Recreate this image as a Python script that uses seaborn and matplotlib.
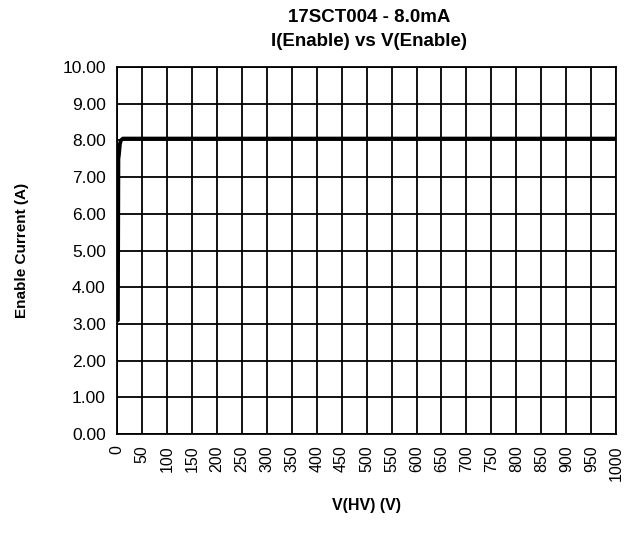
import matplotlib
matplotlib.use("Agg")
import matplotlib.pyplot as plt
import seaborn as sns
import pandas as pd
import numpy as np

# data
voltage = [2, 3, 4, 6, 8, 12, 20, 1000]
current = [3.1, 7.5, 7.6, 7.9, 8.0, 8.05, 8.05, 8.05]
x_ticks = list(range(0, 1001, 50))
y_ticks = [0, 1, 2, 3, 4, 5, 6, 7, 8, 9, 10]

sns.set_style("white", {"text.color": "black", "axes.labelcolor": "black",
                        "xtick.color": "black", "ytick.color": "black"})
plt.rcParams['font.family'] = ['Liberation Sans', 'DejaVu Sans']

df = pd.DataFrame({"V": voltage, "I": current})

fig = plt.figure(figsize=(6.25, 5.36), dpi=100)
ax = fig.add_axes([0.187, 0.190, 0.799, 0.685])

sns.lineplot(data=df, x="V", y="I", ax=ax, color="black", linewidth=2.8,
             estimator=None, sort=False)

ax.set_xlim(0, 1000)
ax.set_ylim(0, 10)
ax.set_xticks(x_ticks)
ax.set_xticklabels([str(t) for t in x_ticks], rotation=90, fontsize=11.5)
ax.set_yticks(y_ticks)
ax.set_yticklabels([f"{t:.2f}" for t in y_ticks], fontsize=12.5)
ax.grid(True, color="black", linewidth=1.3)
ax.set_axisbelow(True)
for s in ax.spines.values():
    s.set_color("black")
    s.set_linewidth(1.3)
ax.tick_params(axis="both", direction="out", length=5, width=1.2, color="black",
               labelcolor="black", pad=3)

ax.set_xlabel("V(HV) (V)", fontsize=11.5, fontweight="bold", color="black")
ax.xaxis.set_label_coords(0.5, -0.175)
ax.set_ylabel("Enable Current (A)", fontsize=11, fontweight="bold", color="black")
ax.yaxis.set_label_coords(-0.175, 0.5)
fig.text(0.59, 1 - 17 / 536, "17SCT004 - 8.0mA", fontsize=13.5, fontweight="bold",
         ha="center", va="center", color="black")
fig.text(0.59, 1 - 41 / 536, "I(Enable) vs V(Enable)", fontsize=13.5, fontweight="bold",
         ha="center", va="center", color="black")

fig.savefig("out.png", dpi=100)
